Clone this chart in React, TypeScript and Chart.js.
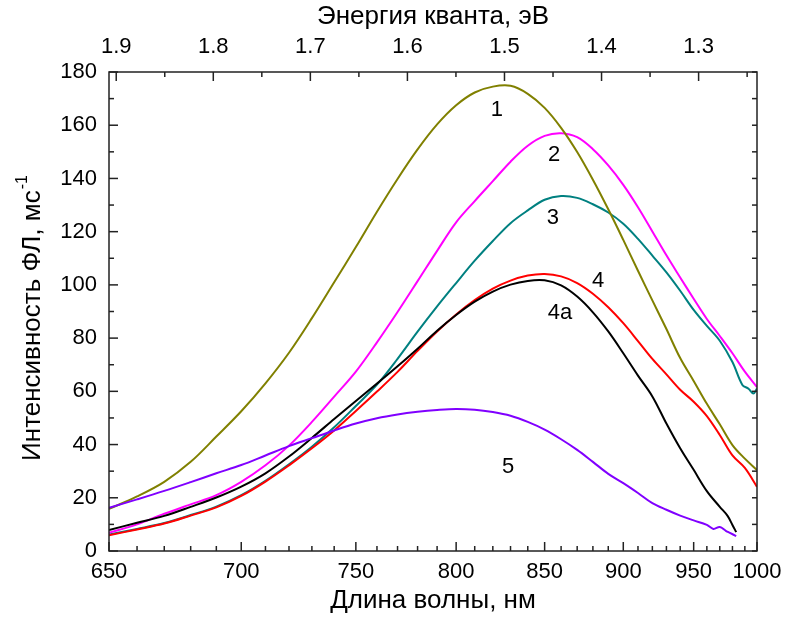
import { useEffect, useRef } from "react";
import { Chart, registerables } from "chart.js";

Chart.register(...registerables);

// Photon energy (eV) = HC / wavelength (nm)
const HC = 1239.84;

const wavelengthNm = [
  650, 660, 670, 680, 690, 700, 710, 720, 730, 740, 750, 760, 770, 780, 790, 800, 810, 820,
  830, 840, 850, 860, 870, 880, 890, 900, 910, 920, 930, 940, 950, 960, 970, 980, 990, 1000,
];

// Curve 1
const curve1 = [
  15.8, 20.5, 26, 33.5, 43, 52.5, 63, 74.5, 87.5, 101, 114.2, 127.5, 139.8, 150.9, 160.3, 167.5,
  172.3, 174.5, 174.8, 171.8, 166.5, 159, 149.9, 139.5, 128.4, 116.9, 105.3, 94.2, 83.4, 72.5,
  63.9, 55.3, 47.6, 39.8, 34.7, 30.4,
];

// Curve 2
const curve2 = [
  6.8, 10, 14, 17.5, 21, 26, 32.2, 39.6, 48.5, 58, 67.4, 78.4, 89.8, 101.4, 112.8, 123.5, 131.5,
  139, 146.3, 152.3, 156, 157, 155.5, 151, 144.9, 137.6, 129.2, 120.1, 111.1, 102.8, 94.8, 87.2,
  80.8, 74.3, 67.4, 61.6,
];

// Curve 3 (own wavelength grid near the noisy red end)
const curve3Nm = [
  650, 660, 670, 680, 690, 700, 710, 720, 730, 740, 750, 760, 770, 780, 790, 800, 810, 820, 830,
  840, 850, 860, 870, 880, 890, 900, 910, 920, 930, 940, 950, 960, 970, 980, 988, 993, 997, 1000,
];
const curve3 = [
  6.2, 8.3, 10.5, 13.5, 16.7, 21, 26.4, 32.6, 39.2, 46.5, 54.5, 62.5, 72.2, 82.4, 91.9, 100.7,
  109.1, 116.5, 123.2, 128, 132, 133.4, 132.7, 130.3, 127.2, 123, 117.3, 111, 104.7, 97.8, 90.6,
  84.6, 79, 71, 62.4, 61, 59.2, 61,
];

// Curve 4
const curve4 = [
  5.9, 8.1, 10.3, 13.3, 16.4, 20.7, 26.1, 32.2, 38.6, 45.3, 52.6, 59.9, 67.3, 75.2, 82.5, 88.9,
  94.3, 98.6, 101.6, 103.5, 104.1, 103.2, 100.7, 96.7, 91.6, 85.6, 78.9, 72.2, 66.4, 60.6, 56.1,
  50.7, 43.6, 35.9, 31.2, 24.1,
];

// Curve 4a
const curve4aNm = [
  650, 660, 670, 680, 690, 700, 710, 720, 730, 740, 750, 760, 770, 780, 790, 800, 810, 820, 830,
  840, 850, 860, 870, 880, 890, 900, 910, 920, 930, 940, 950, 960, 970, 976, 980, 983,
];
const curve4a = [
  7.9, 10.6, 13.2, 16.6, 20.1, 24.2, 29.2, 35.5, 42.5, 49.6, 56.4, 62.9, 69.4, 76, 82.8, 88.7,
  93.7, 97.5, 100.1, 101.5, 101.7, 99.8, 95.6, 89.7, 82.5, 74.3, 65.9, 58.1, 47.9, 38.6, 30.5,
  22.5, 16.6, 13.3, 9.8, 7.1,
];

// Curve 5
const curve5Nm = [
  650, 660, 670, 680, 690, 700, 710, 720, 730, 740, 750, 760, 770, 780, 790, 800, 810, 820, 830,
  840, 850, 860, 870, 880, 890, 900, 910, 920, 930, 940, 950, 960, 965, 970, 975, 978, 983,
];
const curve5 = [
  16.2, 19.4, 22.6, 25.9, 29.2, 32.3, 35.9, 39.4, 42.4, 45.3, 47.9, 49.9, 51.3, 52.3, 53, 53.4,
  53.1, 52.2, 50.8, 48.5, 45.6, 42, 38, 33.5, 29, 25.5, 21.8, 18, 15.5, 13.3, 11.5, 9.8, 8.3, 9,
  7.5, 6.8, 5.6,
];

// Axis ticks
const nmMajorTicks = [650, 700, 750, 800, 850, 900, 950, 1000];
const nmMinorTicks = [
  660, 670, 680, 690, 710, 720, 730, 740, 760, 770, 780, 790, 810, 820, 830, 840, 860, 870, 880,
  890, 910, 920, 930, 940, 960, 970, 980, 990,
];
const evMajorTicks = [1.9, 1.8, 1.7, 1.6, 1.5, 1.4, 1.3];
const evMinorTicks = [1.85, 1.75, 1.65, 1.55, 1.45, 1.35, 1.25];
const intensityMajorTicks = [0, 20, 40, 60, 80, 100, 120, 140, 160, 180];
const intensityMinorTicks = [10, 30, 50, 70, 90, 110, 130, 150, 170];

// Curve annotations
const curveLabelText = ["1", "2", "3", "4", "4a", "5"];
const curveLabelNm = [822.3, 855.7, 855, 883.3, 859.3, 828.6];
const curveLabelValue = [165.7, 148.8, 125.1, 101.5, 89.4, 31.6];

const FONT = '"Liberation Sans", Arial, sans-serif';

const toPoints = (nm: number[], values: number[]) =>
  nm.map((w, i) => ({ x: HC / w, y: values[i] }));

const axisDecor = {
  id: "axisDecor",
  afterDatasetsDraw(chart: any) {
    const { ctx, chartArea, scales } = chart;
    const { left, right, top, bottom } = chartArea;
    const xs = scales.x;
    const ys = scales.y;
    ctx.save();
    ctx.strokeStyle = "#222";
    ctx.lineWidth = 1.5;
    ctx.strokeRect(left, top, right - left, bottom - top);

    const line = (x1: number, y1: number, x2: number, y2: number) => {
      ctx.beginPath();
      ctx.moveTo(x1, y1);
      ctx.lineTo(x2, y2);
      ctx.stroke();
    };
    const MAJ = 9;
    const MIN = 5;

    // bottom: wavelength ticks
    nmMajorTicks.forEach((nm) => {
      const px = xs.getPixelForValue(HC / nm);
      line(px, bottom, px, bottom - MAJ);
    });
    nmMinorTicks.forEach((nm) => {
      const px = xs.getPixelForValue(HC / nm);
      line(px, bottom, px, bottom - MIN);
    });
    // top: energy ticks
    evMajorTicks.forEach((ev) => {
      const px = xs.getPixelForValue(ev);
      line(px, top, px, top + MAJ);
    });
    evMinorTicks.forEach((ev) => {
      const px = xs.getPixelForValue(ev);
      line(px, top, px, top + MIN);
    });
    // left and right: intensity ticks
    intensityMajorTicks.forEach((v) => {
      const py = ys.getPixelForValue(v);
      line(left, py, left + MAJ, py);
      line(right, py, right - MIN, py);
    });
    intensityMinorTicks.forEach((v) => {
      const py = ys.getPixelForValue(v);
      line(left, py, left + MIN, py);
      line(right, py, right - MIN, py);
    });

    ctx.fillStyle = "#000";
    ctx.font = `22px ${FONT}`;
    ctx.textBaseline = "middle";
    ctx.textAlign = "center";
    nmMajorTicks.forEach((nm) => {
      ctx.fillText(String(nm), xs.getPixelForValue(HC / nm), bottom + 21);
    });
    evMajorTicks.forEach((ev) => {
      ctx.fillText(ev.toFixed(1), xs.getPixelForValue(ev), top - 25);
    });
    ctx.textAlign = "right";
    intensityMajorTicks.forEach((v) => {
      ctx.fillText(String(v), left - 12, ys.getPixelForValue(v));
    });

    // curve labels
    ctx.textAlign = "center";
    curveLabelText.forEach((t, i) => {
      ctx.fillText(t, xs.getPixelForValue(HC / curveLabelNm[i]), ys.getPixelForValue(curveLabelValue[i]));
    });

    // axis titles
    const midX = (left + right) / 2;
    ctx.font = `26px ${FONT}`;
    ctx.fillText("Длина волны, нм", midX, bottom + 50);
    ctx.fillText("Энергия кванта, эВ", midX, top - 55);

    ctx.save();
    ctx.translate(33, (top + bottom) / 2 + 7);
    ctx.rotate(-Math.PI / 2);
    const main = "Интенсивность ФЛ, мс";
    const sup = "-1";
    ctx.font = `26px ${FONT}`;
    const w = ctx.measureText(main).width;
    ctx.font = `16px ${FONT}`;
    const ws = ctx.measureText(sup).width;
    const start = -(w + ws) / 2;
    ctx.textAlign = "left";
    ctx.font = `26px ${FONT}`;
    ctx.fillText(main, start, 0);
    ctx.font = `16px ${FONT}`;
    ctx.fillText(sup, start + w + 1, -10);
    ctx.restore();

    ctx.restore();
  },
};

export default function App() {
  const canvasRef = useRef<HTMLCanvasElement | null>(null);

  useEffect(() => {
    const canvas = canvasRef.current;
    if (!canvas) return;
    const chart = new Chart(canvas, {
      type: "line",
      data: {
        datasets: [
          { label: "5", data: toPoints(curve5Nm, curve5), borderColor: "#8000FF" },
          { label: "4a", data: toPoints(curve4aNm, curve4a), borderColor: "#000000" },
          { label: "1", data: toPoints(wavelengthNm, curve1), borderColor: "#808000" },
          { label: "2", data: toPoints(wavelengthNm, curve2), borderColor: "#FF00FF" },
          { label: "4", data: toPoints(wavelengthNm, curve4), borderColor: "#FF0000" },
          { label: "3", data: toPoints(curve3Nm, curve3), borderColor: "#008080" },
        ],
      },
      options: {
        responsive: false,
        animation: false,
        layout: { padding: { left: 109, right: 30, top: 72, bottom: 66 } },
        scales: {
          x: { type: "linear", min: HC / 1000, max: HC / 650, reverse: true, display: false },
          y: { type: "linear", min: 0, max: 180, display: false },
        },
        plugins: { legend: { display: false }, tooltip: { enabled: false } },
        elements: {
          point: { radius: 0 },
          line: { borderWidth: 2, tension: 0.35, fill: false },
        },
      },
      plugins: [axisDecor],
    });
    return () => chart.destroy();
  }, []);

  return (
    <div style={{ position: "fixed", left: 0, top: 0, width: 787, height: 617, background: "#fff" }}>
      <canvas ref={canvasRef} width={787} height={617} style={{ display: "block" }} />
    </div>
  );
}
